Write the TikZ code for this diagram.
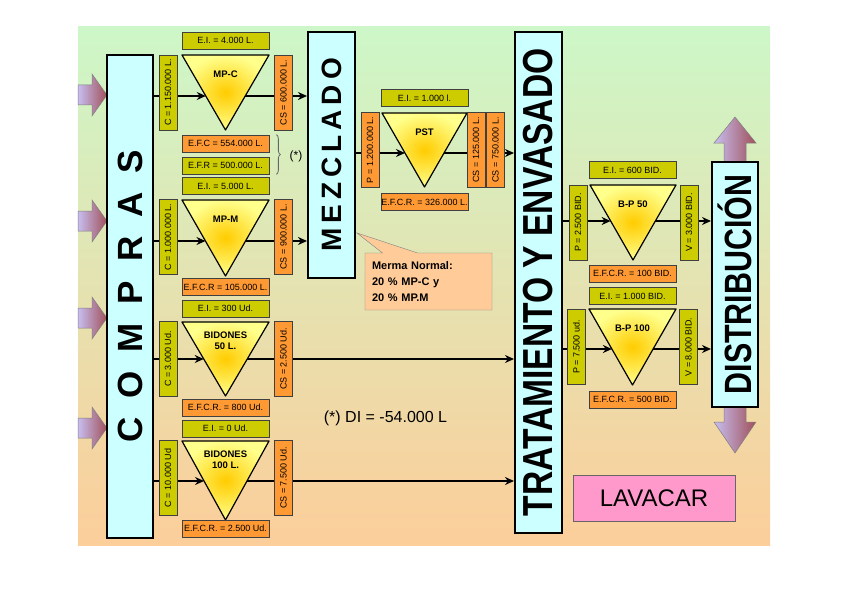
\documentclass[tikz,border=0pt]{standalone}
\usepackage{fontspec}
\setmainfont{Liberation Sans}
\newfontfamily\headfont{Liberation Sans}[FakeStretch=0.8]
\usepackage{graphicx}
\usetikzlibrary{shapes.geometric, shapes.callouts, arrows.meta, positioning, calc, backgrounds, decorations.pathreplacing}
\usepackage{xcolor}
\definecolor{bgtop}{RGB}{205,247,200}
\definecolor{bgmid}{RGB}{236,228,178}
\definecolor{bgbottom}{RGB}{252,206,154}
\definecolor{stagecyan}{RGB}{204,255,255}
\definecolor{tagolive}{RGB}{204,204,0}
\definecolor{tagorange}{RGB}{255,153,51}
\definecolor{funnelin}{RGB}{255,204,0}
\definecolor{funnelout}{RGB}{255,255,140}
\definecolor{arrowlav}{RGB}{200,190,240}
\definecolor{arrowred}{RGB}{160,80,90}
\definecolor{mermafill}{RGB}{255,204,153}
\definecolor{lavpink}{RGB}{255,153,204}
\tikzstyle{stage} = [rectangle, draw=black, line width=2pt, fill=stagecyan, inner sep=0pt, font=\bfseries]
\tikzstyle{tag} = [rectangle, draw=black!75, line width=0.7pt, inner sep=0pt, minimum width=87pt, minimum height=17pt, font=\fontsize{9}{9}\selectfont]
\tikzstyle{vtag} = [tag, minimum width=18pt, minimum height=75pt]
\tikzstyle{stocktag} = [fill=tagolive]
\tikzstyle{flowtag} = [fill=tagorange]
\tikzstyle{funnellbl} = [font=\bfseries\fontsize{9.5}{11}\selectfont, align=center, inner sep=0pt]
\tikzstyle{bigarrow} = [left color=arrowlav, right color=arrowred, draw=black!50, line width=0.5pt]
\tikzstyle{arrow} = [line width=2pt,->,>={Stealth[length=9pt,width=8pt]}]
% triangle: name, left x, right x, top y, apex y, line y, label
\newcommand{\drawfunnel}[7]{%
  \pgfmathsetmacro{\fmid}{(#2+#3)/2}%
  \pgfmathsetmacro{\ft}{(#6-#4)/(#5-#4)}%
  \shade[inner color=funnelin, outer color=funnelout] (#2,#4) -- (#3,#4) -- (\fmid,#5) -- cycle;
  \draw[line width=1.2pt, line join=round] (#2,#4) -- (#3,#4) -- (\fmid,#5) -- cycle;
  \coordinate (#1-in) at ($(#2,#4)!\ft!(\fmid,#5)$);
  \coordinate (#1-out) at ($(#3,#4)!\ft!(\fmid,#5)$);
  \node (#1) [funnellbl] at (\fmid,#4+19) {#7};
}
\begin{document}
\begin{tikzpicture}[x=1pt, y=-1pt]
    \useasboundingbox (0,0) rectangle (848,599);
    \begin{pgfonlayer}{background}
        \shade[top color=bgtop, middle color=bgmid, bottom color=bgbottom] (78,27) rectangle (770,545);
    \end{pgfonlayer}

    % entradas
    \foreach \ay in {95,221,318,428}
        \shadedraw[bigarrow] (78,\ay-10) -- (92,\ay-10) -- (92,\ay-21) -- (107,\ay) -- (92,\ay+21) -- (92,\ay+10) -- (78,\ay+10) -- cycle;
    % salidas
    \shadedraw[bigarrow] (724,162) -- (724,143) -- (714,143) -- (735,117) -- (756,143) -- (746,143) -- (746,162) -- cycle;
    \shadedraw[bigarrow] (724,407) -- (724,422) -- (714,422) -- (735,453) -- (756,422) -- (746,422) -- (746,407) -- cycle;

    \node (compras) [stage, minimum width=46pt, minimum height=483pt] at (130,296.5) {\rotatebox{90}{\fontsize{35}{35}\selectfont\spaceskip=19pt\relax C O M P R A S}};
    \node (mezclado) [stage, minimum width=47pt, minimum height=246pt] at (331.5,155) {\rotatebox{90}{\fontsize{28}{28}\selectfont\spaceskip=5pt\relax M E Z C L A D O}};
    \node (tratamiento) [stage, minimum width=47pt, minimum height=501pt] at (538.5,282.5) {\rotatebox{90}{\headfont\bfseries\fontsize{42}{42}\selectfont TRATAMIENTO Y ENVASADO}};
    \node (distribucion) [stage, minimum width=46pt, minimum height=245pt] at (735,284.5) {\rotatebox{90}{\headfont\bfseries\fontsize{38}{38}\selectfont DISTRIBUCIÓN}};

    % materias primas y bidones
    \drawfunnel{mpc}{182}{269}{55}{130}{96}{MP-C}
    \drawfunnel{mpm}{182}{269}{200}{276}{241}{MP-M}
    \drawfunnel{bid50}{182}{269}{322}{396}{359}{BIDONES\\50 L.}
    \drawfunnel{bid100}{182}{269}{441}{520}{481}{BIDONES\\100 L.}

    \node (ei1) [tag, stocktag] at (225.5,40.5) {E.I. = 4.000 L.};
    \node (c1) [vtag, stocktag] at (168,92.5) {\rotatebox{90}{C = 1.150.000 L.}};
    \node (cs1) [vtag, flowtag] at (283.5,92.5) {\rotatebox{90}{CS = 600.000 L.}};
    \node (efc1) [tag, flowtag] at (225.5,143.5) {E.F.C = 554.000 L.};
    \node (efr1) [tag, stocktag] at (225.5,165.5) {E.F.R = 500.000 L.};
    \node (ei2) [tag, stocktag] at (225.5,186) {E.I. = 5.000 L.};
    \node (c2) [vtag, stocktag] at (168,237) {\rotatebox{90}{C = 1.000.000 L.}};
    \node (cs2) [vtag, flowtag] at (283.5,237) {\rotatebox{90}{CS = 900.000 L.}};
    \node (efcr2) [tag, flowtag] at (225.5,287) {E.F.C.R = 105.000 L.};
    \node (ei3) [tag, stocktag] at (225.5,308.5) {E.I. = 300 Ud.};
    \node (c3) [vtag, stocktag] at (168,359) {\rotatebox{90}{C = 3.000 Ud.}};
    \node (cs3) [vtag, flowtag] at (283.5,359) {\rotatebox{90}{CS = 2.500 Ud.}};
    \node (efcr3) [tag, flowtag] at (225.5,407.5) {E.F.C.R. = 800 Ud.};
    \node (ei4) [tag, stocktag] at (225.5,428.5) {E.I. = 0 Ud.};
    \node (c4) [vtag, stocktag] at (168,478) {\rotatebox{90}{C = 10.000 Ud}};
    \node (cs4) [vtag, flowtag] at (283.5,478) {\rotatebox{90}{CS = 7.500 Ud.}};
    \node (efcr4) [tag, flowtag] at (225.5,528.5) {E.F.C.R. = 2.500 Ud.};

    \draw[decorate, decoration={brace, amplitude=4pt}, black!60, line width=0.8pt] ([xshift=7pt]efc1.north east) -- ([xshift=7pt]efr1.south east);
    \node (ast) [font=\fontsize{12}{12}\selectfont] at (296,156) {(*)};

    % mezclado
    \drawfunnel{pst}{382}{467}{113}{187}{153}{PST}
    \node (eipst) [tag, stocktag] at (424.5,98) {E.I. = 1.000 l.};
    \node (ppst) [vtag, flowtag] at (370,150) {\rotatebox{90}{P = 1.200.000 L.}};
    \node (cs125) [vtag, flowtag] at (476,150) {\rotatebox{90}{CS = 125.000 L.}};
    \node (cs750) [vtag, flowtag] at (495.5,150) {\rotatebox{90}{CS = 750.000 L.}};
    \node (efcrpst) [tag, flowtag] at (424.5,202) {E.F.C.R. = 326.000 L.};

    \coordinate (mermatip) at (357,233);
    \node (merma) [rectangle callout, draw=black!50, fill=mermafill, minimum width=127pt, minimum height=57pt, callout absolute pointer={(mermatip)}, callout pointer width=35pt, text width=113pt, align=left, font=\bfseries\fontsize{11}{16}\selectfont] at (428.5,281.5) {Merma Normal:\\20 \% MP-C y\\20 \% MP.M};

    % envasado
    \drawfunnel{bp50}{590}{676}{185}{260}{221}{B-P 50}
    \node (eibp50) [tag, stocktag] at (632.5,170) {E.I. = 600 BID.};
    \node (pbp50) [vtag, stocktag] at (578,222.5) {\rotatebox{90}{P = 2.500 BID.}};
    \node (vbp50) [vtag, stocktag] at (689,222.5) {\rotatebox{90}{V = 3.000 BID.}};
    \node (efcrbp50) [tag, flowtag] at (632.5,273.5) {E.F.C.R. = 100 BID.};
    \drawfunnel{bp100}{589}{676}{309}{385}{349}{B-P 100}
    \node (eibp100) [tag, stocktag] at (632.5,296) {E.I. = 1.000 BID.};
    \node (pbp100) [vtag, stocktag] at (576.5,347) {\rotatebox{90}{P = 7.500 ud.}};
    \node (vbp100) [vtag, stocktag] at (688.5,347) {\rotatebox{90}{V = 8.000 BID.}};
    \node (efcrbp100) [tag, flowtag] at (632.5,399.5) {E.F.C.R. = 500 BID.};

    \node (di) [font=\fontsize{16}{16}\selectfont] at (385.5,418) {(*) DI = -54.000 L};
    \node (lavacar) [rectangle, draw=black!60, line width=0.8pt, fill=lavpink, minimum width=162pt, minimum height=46pt, font=\fontsize{24}{24}\selectfont] at (654,498) {LAVACAR};

    \begin{scope}[on background layer]
        \draw [arrow] (compras.east |- mpc-in) -- (mpc-in);
        \draw [arrow] (mpc-out) -- (mezclado.west |- mpc-out);
        \draw [arrow] (compras.east |- mpm-in) -- (mpm-in);
        \draw [arrow] (mpm-out) -- (mezclado.west |- mpm-out);
        \draw [arrow] (compras.east |- bid50-in) -- (bid50-in);
        \draw [arrow] (bid50-out) -- (tratamiento.west |- bid50-out);
        \draw [arrow] (compras.east |- bid100-in) -- (bid100-in);
        \draw [arrow] (bid100-out) -- (tratamiento.west |- bid100-out);
        \draw [arrow] (mezclado.east |- pst-in) -- (pst-in);
        \draw [arrow] (pst-out) -- (tratamiento.west |- pst-out);
        \draw [arrow] (tratamiento.east |- bp50-in) -- (bp50-in);
        \draw [arrow] (bp50-out) -- (distribucion.west |- bp50-out);
        \draw [arrow] (tratamiento.east |- bp100-in) -- (bp100-in);
        \draw [arrow] (bp100-out) -- (distribucion.west |- bp100-out);
    \end{scope}
\end{tikzpicture}
\end{document}
